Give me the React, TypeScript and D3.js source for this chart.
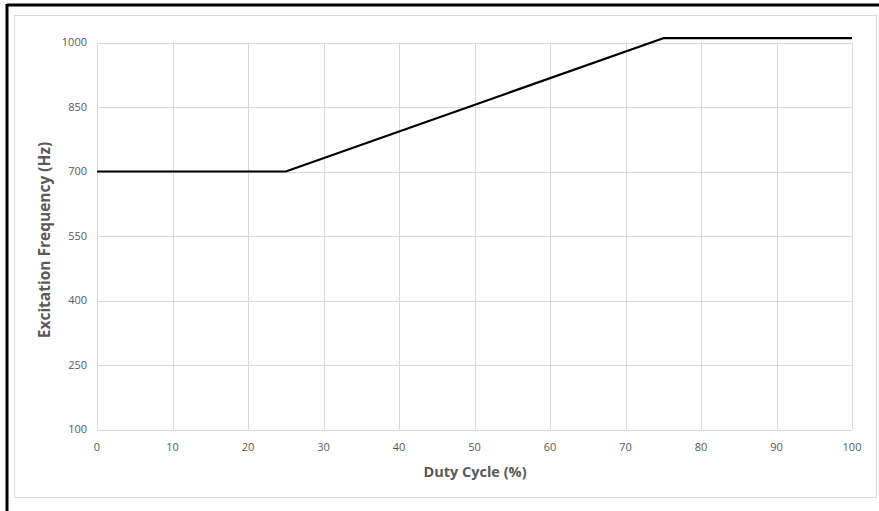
import React from "react";
import * as d3 from "d3";

const dutyCycle = [0, 25, 75, 100];
const frequency = [700, 700, 1010, 1010];
const xTicks = [0, 10, 20, 30, 40, 50, 60, 70, 80, 90, 100];
const yTicks = [100, 250, 400, 550, 700, 850, 1000];

const W = 879;
const H = 511;

export default function App() {
  const x = d3.scaleLinear().domain([0, 100]).range([97, 852]);
  const y = d3.scaleLinear().domain([100, 1000]).range([429.5, 42.5]);
  const pts = dutyCycle.map((d, i) => [d, frequency[i]] as [number, number]);
  const line = d3
    .line<[number, number]>()
    .x((d) => x(d[0]))
    .y((d) => y(d[1]));
  const font = "'Open Sans', 'Liberation Sans', sans-serif";
  const grid = "#d9d9d9";
  const txt = "#595959";
  return (
    <div style={{ position: "fixed", left: 0, top: 0 }}>
      <svg width={W} height={H} style={{ display: "block", background: "#fff" }}>
        <rect x={0} y={0} width={W} height={H} fill="#fff" />
        {/* outer black border (top and left) */}
        <line x1={7} y1={5} x2={W} y2={5} stroke="#000" strokeWidth={3} />
        <line x1={7} y1={4} x2={7} y2={H} stroke="#000" strokeWidth={3} />
        {/* chart area frame */}
        <rect x={14.5} y={15.5} width={862} height={482} fill="none" stroke={grid} strokeWidth={1} />
        {/* gridlines */}
        {yTicks.map((t) => (
          <line key={"gy" + t} x1={x(0)} x2={x(100)} y1={Math.round(y(t)) + 0.5} y2={Math.round(y(t)) + 0.5} stroke={grid} strokeWidth={1} />
        ))}
        {xTicks.map((t) => (
          <line key={"gx" + t} x1={Math.round(x(t)) + 0.5} x2={Math.round(x(t)) + 0.5} y1={y(1000)} y2={y(100)} stroke={grid} strokeWidth={1} />
        ))}
        {/* tick labels */}
        {yTicks.map((t) => (
          <text key={"ty" + t} x={87} y={y(t)} dy="0.35em" textAnchor="end" fontSize={11} fill={txt} fontFamily={font}>
            {t}
          </text>
        ))}
        {xTicks.map((t) => (
          <text key={"tx" + t} x={x(t)} y={451} textAnchor="middle" fontSize={11} fill={txt} fontFamily={font}>
            {t}
          </text>
        ))}
        {/* data line */}
        <path d={line(pts) || ""} fill="none" stroke="#000" strokeWidth={2.2} strokeLinejoin="round" />
        {/* axis titles */}
        <text x={475} y={477} textAnchor="middle" fontSize={14.5} fontWeight="bold" fill={txt} fontFamily={font}>
          Duty Cycle (%)
        </text>
        <text
          transform={`translate(50, 240) rotate(-90)`}
          textAnchor="middle"
          fontSize={15.5}
          fontWeight="bold"
          fill={txt}
          fontFamily={font}
        >
          Excitation Frequency (Hz)
        </text>
      </svg>
    </div>
  );
}
